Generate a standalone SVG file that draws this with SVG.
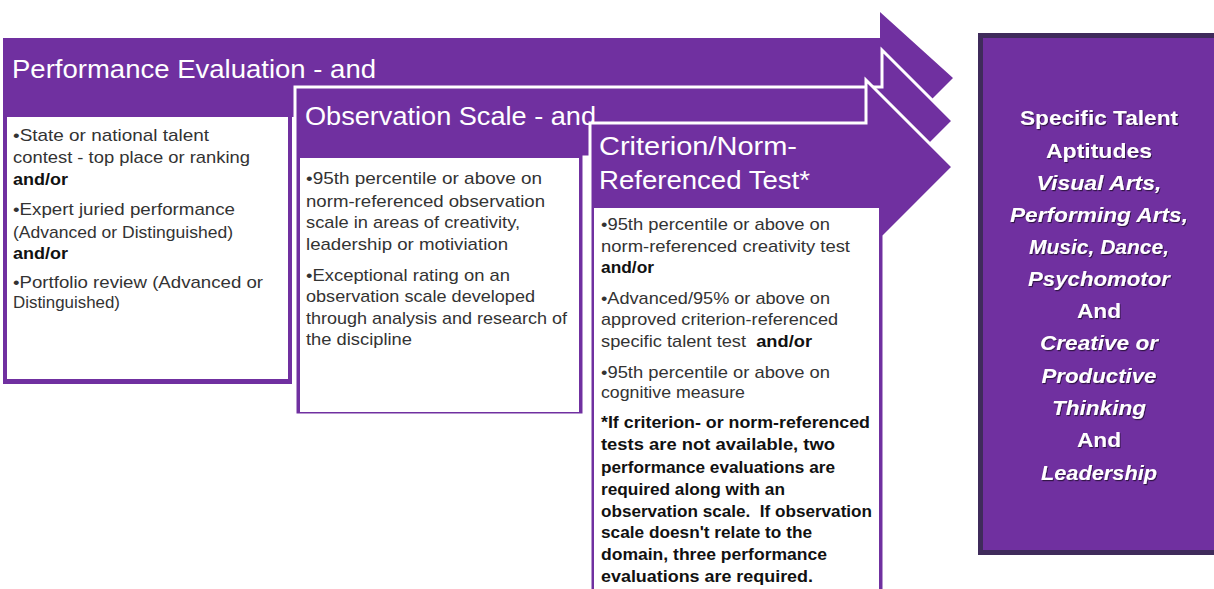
<svg xmlns="http://www.w3.org/2000/svg" width="1214" height="589" viewBox="0 0 1214 589">
<defs>
<style>
.arrow{fill:#7030A0;stroke:#ffffff;stroke-width:3;stroke-linejoin:miter}
.box{fill:#ffffff}
.hd{font-family:"Liberation Sans",Arial,sans-serif;font-size:26.5px;fill:#ffffff}
.bt{font-family:"Liberation Sans",Arial,sans-serif;font-size:17px;fill:#333333}
.b{font-weight:bold;fill:#111111}
.rt{font-family:"Liberation Sans",Arial,sans-serif;font-size:21px;font-weight:bold;fill:#ffffff;text-anchor:middle}
.it{font-style:italic}
</style>
<filter id="sh" x="-10%" y="-10%" width="120%" height="120%">
<feDropShadow dx="1" dy="1.2" stdDeviation="0.6" flood-color="#000000" flood-opacity="0.55"/>
</filter>
</defs>
<rect width="1214" height="589" fill="#ffffff"/>

<g id="connectors"></g>

<g id="stage1">
<path d="M3,38 H880 V12 L953,78 L880,151 V117 H292 V384 H3 Z" fill="#7030A0"/>
<rect class="box" x="7" y="117" width="281" height="262"/>
<text class="hd" x="12" y="78" textLength="364" lengthAdjust="spacingAndGlyphs">Performance Evaluation - and</text>
<text class="bt" x="13" y="141" textLength="196" lengthAdjust="spacingAndGlyphs">•State or national talent</text>
<text class="bt" x="13" y="163" textLength="237" lengthAdjust="spacingAndGlyphs">contest - top place or ranking</text>
<text class="bt b" x="13" y="185" textLength="55" lengthAdjust="spacingAndGlyphs">and/or</text>
<text class="bt" x="13" y="215" textLength="222" lengthAdjust="spacingAndGlyphs">•Expert juried performance</text>
<text class="bt" x="13" y="238" textLength="220" lengthAdjust="spacingAndGlyphs">(Advanced or Distinguished)</text>
<text class="bt b" x="13" y="259" textLength="55" lengthAdjust="spacingAndGlyphs">and/or</text>
<text class="bt" x="13" y="288" textLength="250" lengthAdjust="spacingAndGlyphs">•Portfolio review (Advanced or</text>
<text class="bt" x="13" y="308" textLength="107" lengthAdjust="spacingAndGlyphs">Distinguished)</text>
</g>

<g id="stage2">
<path class="arrow" d="M295,87 H882 V50 L953,121 L882,192 V157 H584 V415 H295 Z"/>
<rect class="box" x="300" y="158" width="279" height="254"/>
<text class="hd" x="305" y="125" textLength="291" lengthAdjust="spacingAndGlyphs">Observation Scale - and</text>
<text class="bt" x="306" y="184" textLength="236" lengthAdjust="spacingAndGlyphs">•95th percentile or above on</text>
<text class="bt" x="306" y="207" textLength="239" lengthAdjust="spacingAndGlyphs">norm-referenced observation</text>
<text class="bt" x="306" y="228" textLength="214" lengthAdjust="spacingAndGlyphs">scale in areas of creativity,</text>
<text class="bt" x="306" y="250" textLength="202" lengthAdjust="spacingAndGlyphs">leadership or motiviation</text>
<text class="bt" x="306" y="281" textLength="204" lengthAdjust="spacingAndGlyphs">•Exceptional rating on an</text>
<text class="bt" x="306" y="302" textLength="229" lengthAdjust="spacingAndGlyphs">observation scale developed</text>
<text class="bt" x="306" y="324" textLength="261" lengthAdjust="spacingAndGlyphs">through analysis and research of</text>
<text class="bt" x="306" y="345" textLength="106" lengthAdjust="spacingAndGlyphs">the discipline</text>
</g>

<g id="stage3">
<path class="arrow" d="M590,123 H866 V80 L953,167 L884,236 V600 H590 Z"/>
<rect class="box" x="594" y="208" width="285" height="400"/>
<text class="hd" x="599" y="155" textLength="198" lengthAdjust="spacingAndGlyphs">Criterion/Norm-</text>
<text class="hd" x="599" y="189" textLength="211" lengthAdjust="spacingAndGlyphs">Referenced Test*</text>
<text class="bt" x="601" y="230" textLength="229" lengthAdjust="spacingAndGlyphs">•95th percentile or above on</text>
<text class="bt" x="601" y="252" textLength="249" lengthAdjust="spacingAndGlyphs">norm-referenced creativity test</text>
<text class="bt b" x="601" y="273" textLength="53" lengthAdjust="spacingAndGlyphs">and/or</text>
<text class="bt" x="601" y="304" textLength="229" lengthAdjust="spacingAndGlyphs">•Advanced/95% or above on</text>
<text class="bt" x="601" y="325" textLength="237" lengthAdjust="spacingAndGlyphs">approved criterion-referenced</text>
<text class="bt" x="601" y="347" textLength="211" lengthAdjust="spacingAndGlyphs" xml:space="preserve">specific talent test  <tspan class="b">and/or</tspan></text>
<text class="bt" x="601" y="378" textLength="229" lengthAdjust="spacingAndGlyphs">•95th percentile or above on</text>
<text class="bt" x="601" y="398" textLength="144" lengthAdjust="spacingAndGlyphs">cognitive measure</text>
<text class="bt b" x="601" y="428" textLength="269" lengthAdjust="spacingAndGlyphs">*If criterion- or norm-referenced</text>
<text class="bt b" x="601" y="450" textLength="234" lengthAdjust="spacingAndGlyphs">tests are not available, two</text>
<text class="bt b" x="601" y="473" textLength="234" lengthAdjust="spacingAndGlyphs">performance evaluations are</text>
<text class="bt b" x="601" y="495" textLength="184" lengthAdjust="spacingAndGlyphs">required along with an</text>
<text class="bt b" x="601" y="517" textLength="271" lengthAdjust="spacingAndGlyphs" xml:space="preserve">observation scale.  If observation</text>
<text class="bt b" x="601" y="538" textLength="211" lengthAdjust="spacingAndGlyphs">scale doesn't relate to the</text>
<text class="bt b" x="601" y="560" textLength="226" lengthAdjust="spacingAndGlyphs">domain, three performance</text>
<text class="bt b" x="601" y="582" textLength="212" lengthAdjust="spacingAndGlyphs">evaluations are required.</text>
</g>

<g id="outcome">
<rect x="980.5" y="35.5" width="242" height="517" fill="#7030A0" stroke="#3F2B5B" stroke-width="5"/>
<g filter="url(#sh)">
<text class="rt" x="1099" y="125" textLength="158" lengthAdjust="spacingAndGlyphs">Specific Talent</text>
<text class="rt" x="1099" y="158" textLength="106" lengthAdjust="spacingAndGlyphs">Aptitudes</text>
<text class="rt it" x="1099" y="190" textLength="125" lengthAdjust="spacingAndGlyphs">Visual Arts,</text>
<text class="rt it" x="1099" y="222" textLength="178" lengthAdjust="spacingAndGlyphs">Performing Arts,</text>
<text class="rt it" x="1099" y="254" textLength="140" lengthAdjust="spacingAndGlyphs">Music, Dance,</text>
<text class="rt it" x="1099" y="286" textLength="142" lengthAdjust="spacingAndGlyphs">Psychomotor</text>
<text class="rt" x="1099" y="318" textLength="44" lengthAdjust="spacingAndGlyphs">And</text>
<text class="rt it" x="1099" y="350" textLength="118" lengthAdjust="spacingAndGlyphs">Creative or</text>
<text class="rt it" x="1099" y="383" textLength="115" lengthAdjust="spacingAndGlyphs">Productive</text>
<text class="rt it" x="1099" y="415" textLength="94" lengthAdjust="spacingAndGlyphs">Thinking</text>
<text class="rt" x="1099" y="447" textLength="44" lengthAdjust="spacingAndGlyphs">And</text>
<text class="rt it" x="1099" y="480" textLength="116" lengthAdjust="spacingAndGlyphs">Leadership</text>
</g>
</g>
</svg>
